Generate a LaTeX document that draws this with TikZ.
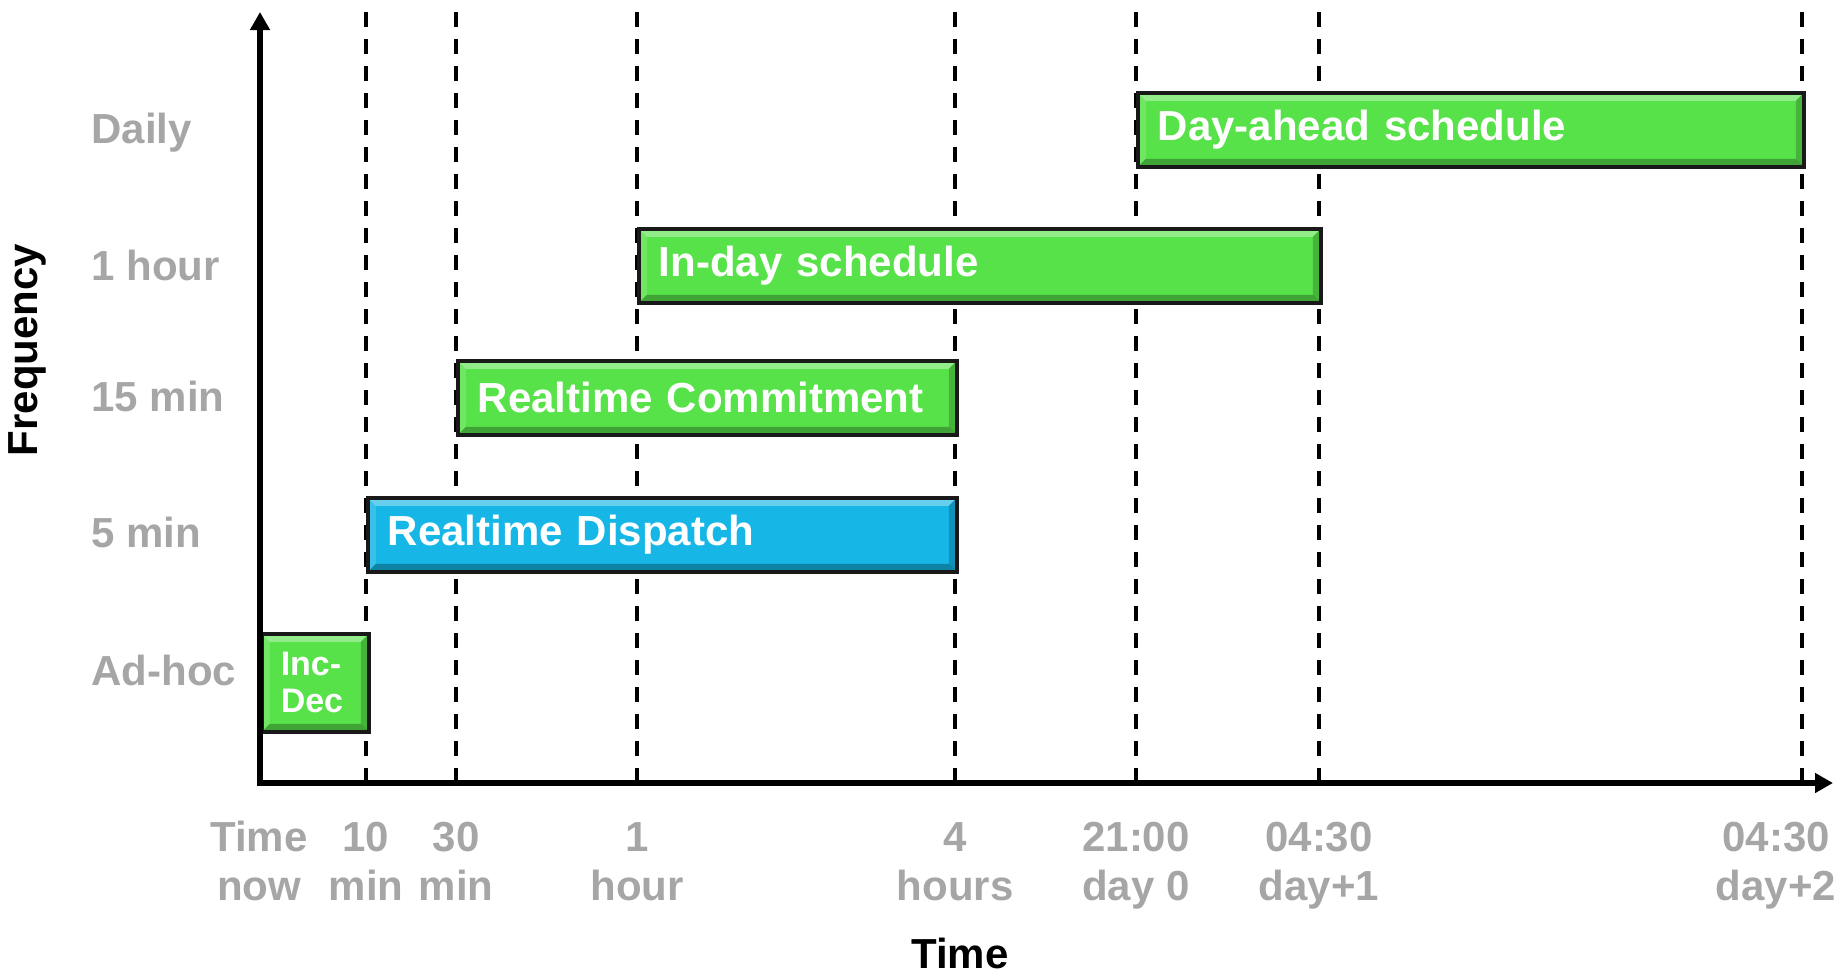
\documentclass[tikz,border=0pt]{standalone}
\usepackage{fontspec}
\setmainfont{Liberation Sans}
\usetikzlibrary{arrows.meta}
\definecolor{barGreen}{HTML}{58E24A}
\definecolor{barBlue}{HTML}{16B6E6}
\definecolor{labelGray}{HTML}{A6A6A6}
\tikzset{
  bevel/.style={path picture={
    \fill[white,opacity=0.35] (path picture bounding box.north west) -- (path picture bounding box.north east)
      -- ([xshift=-8pt,yshift=-8pt]path picture bounding box.north east) -- ([xshift=8pt,yshift=-8pt]path picture bounding box.north west) -- cycle;
    \fill[black,opacity=0.28] (path picture bounding box.south west) -- (path picture bounding box.south east)
      -- ([xshift=-8pt,yshift=8pt]path picture bounding box.south east) -- ([xshift=8pt,yshift=8pt]path picture bounding box.south west) -- cycle;
    \fill[white,opacity=0.15] (path picture bounding box.south west) -- (path picture bounding box.north west)
      -- ([xshift=8pt,yshift=-8pt]path picture bounding box.north west) -- ([xshift=8pt,yshift=8pt]path picture bounding box.south west) -- cycle;
    \fill[black,opacity=0.2] (path picture bounding box.south east) -- (path picture bounding box.north east)
      -- ([xshift=-8pt,yshift=-8pt]path picture bounding box.north east) -- ([xshift=-8pt,yshift=8pt]path picture bounding box.south east) -- cycle;
  }},
  bar/.style={draw=black!90, line width=3.5pt, inner xsep=20pt, inner ysep=0pt, text=white, anchor=north west,
    font=\bfseries\fontsize{42}{50}\selectfont, minimum height=74pt, align=left, bevel},
  greenbar/.style={bar, fill=barGreen},
  bluebar/.style={bar, fill=barBlue},
  dashline/.style={line width=4pt, dash pattern=on 15pt off 12pt},
  axisline/.style={line width=5.5pt, -{Triangle[length=18pt,width=19pt]}},
  freqlabel/.style={anchor=base west, text=labelGray, font=\bfseries\fontsize{42}{50}\selectfont},
  ticklabel/.style={text=labelGray, align=center, inner sep=0pt, font=\bfseries\fontsize{42}{49}\selectfont},
  axistitle/.style={text=black, inner sep=0pt, font=\bfseries\fontsize{42}{50}\selectfont},
}
\newcommand{\twolines}[2]{\strut #1\\\strut #2}
\begin{document}
\begin{tikzpicture}[x=1pt,y=-1pt]
\useasboundingbox (0,0) rectangle (1846,977);
% dashed time lines
\foreach \n/\x in {a/366,b/456,c/637,d/955,e/1136,f/1319,g/1802}{
  \coordinate (\n top) at (\x,12);
  \coordinate (\n bot) at (\x,780);
  \draw[dashline] (\n top) -- (\n bot);
}
% bars
\node[greenbar, text width=626pt] (da) at (1136,91) {Day-ahead schedule};
\node[greenbar, text width=642pt] (id) at (637,227) {In-day schedule};
\node[greenbar, text width=459pt] (rc) at (456,359) {Realtime Commitment};
\node[bluebar, text width=549pt] (rd) at (366,496) {Realtime Dispatch};
\node[greenbar, inner xsep=19pt, text width=69pt, minimum height=98pt, align=left,
      font=\bfseries\fontsize{34}{37}\selectfont] (incdec) at (260,632) {Inc-\\Dec};
% axes
\coordinate (origin) at (260,783);
\coordinate (ytop) at (260,12);
\coordinate (xend) at (1833,783);
\draw[axisline] ([yshift=-2.75pt]origin) -- (ytop);
\draw[axisline] ([xshift=-2.75pt]origin) -- (xend);
% frequency labels
\node[freqlabel] (fdaily) at (88,143) {Daily};
\node[freqlabel] (fhour) at (88,280) {1 hour};
\node[freqlabel] (f15) at (88,411) {15 min};
\node[freqlabel] (f5) at (88,547) {5 min};
\node[freqlabel] (fadhoc) at (88,685) {Ad-hoc};
% tick labels
\node[ticklabel] (l0) at (259,866) {\twolines{Time}{now}};
\node[ticklabel] (l1) at (366,866) {\twolines{10}{min}};
\node[ticklabel] (l2) at (456,866) {\twolines{30}{min}};
\node[ticklabel] (l3) at (637,866) {\twolines{1}{hour}};
\node[ticklabel] (l4) at (955,866) {\twolines{4}{hours}};
\node[ticklabel] (l5) at (1136,866) {\twolines{21:00}{day 0}};
\node[ticklabel] (l6) at (1319,866) {\twolines{04:30}{day+1}};
\node[ticklabel] (l7) at (1776,866) {\twolines{04:30}{day+2}};
% axis titles
\node[axistitle, anchor=base] (ttime) at (960,968) {Time};
\node[axistitle, rotate=90] (tfreq) at (27,350) {Frequency};
\end{tikzpicture}
\end{document}
